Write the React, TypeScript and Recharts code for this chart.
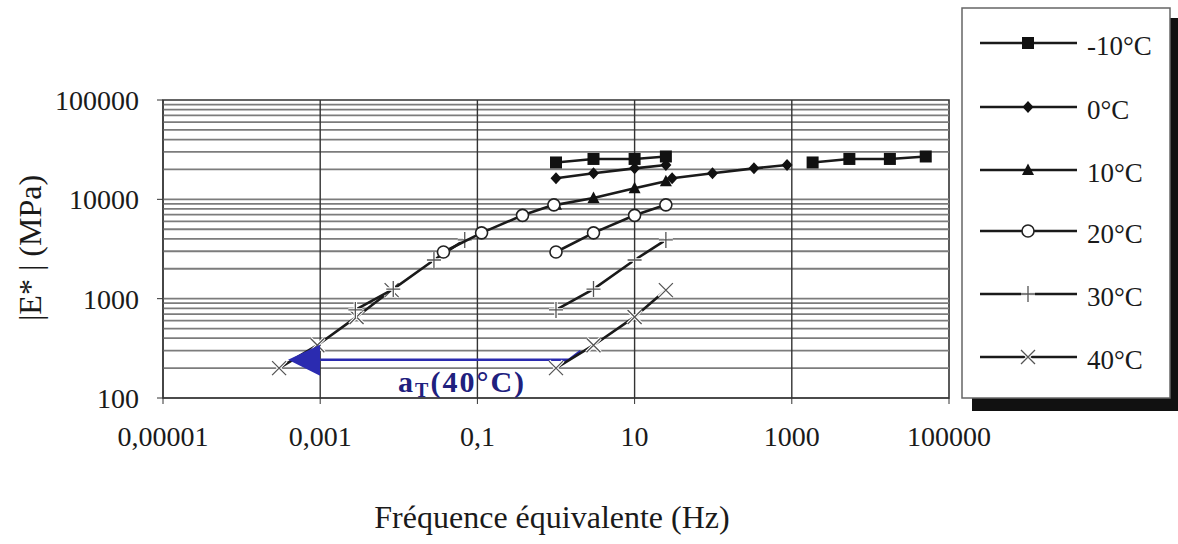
import React from "react";
import {
  ScatterChart,
  Scatter,
  XAxis,
  YAxis,
  ReferenceArea,
  ReferenceLine,
  ReferenceDot,
} from "recharts";

// fréquences d'essai (Hz)
const freqTest = [1, 3, 10, 25];

// |E*| mesuré (MPa) par température
const modM10 = [23500, 25500, 25500, 27000];
const mod0 = [16300, 18300, 20500, 22200];
const mod10 = [8800, 10300, 12900, 15200];
const mod20 = [2950, 4600, 6900, 8800];
const mod30 = [770, 1250, 2450, 3900];
const mod40 = [200, 340, 655, 1220];

// fréquences équivalentes après translation (réf. 10°C)
const freqEqM10 = [1840, 5400, 17700, 50600];
const freqEq0 = [30, 98, 330, 870];
const freqEq20 = [0.037, 0.113, 0.375, 0.94];
const freqEq30 = [0.0028, 0.0085, 0.028, 0.069];
const freqEq40 = [0.0003, 0.00092, 0.0029, 0.0081];

const temperatures = ["-10°C", "0°C", "10°C", "20°C", "30°C", "40°C"];

const xTicks = [0.00001, 0.001, 0.1, 10, 1000, 100000];
const xTickLabels = ["0,00001", "0,001", "0,1", "10", "1000", "100000"];
const yTicks = [100, 1000, 10000, 100000];
const yTickLabels = ["100", "1000", "10000", "100000"];
const xGrid = [0.001, 0.1, 10, 1000];

const yGrid: number[] = [];
for (const d of [100, 1000, 10000]) {
  for (let k = 2; k < 10; k++) yGrid.push(k * d);
}
yGrid.push(1000, 10000);

type Kind = "square" | "diamond" | "triangle" | "circle" | "plus" | "cross";
const kinds: Kind[] = ["square", "diamond", "triangle", "circle", "plus", "cross"];

const FONT = "Liberation Serif, DejaVu Serif, serif";
const INK = "#1a1a1a";

function Marker({ kind, cx, cy }: { kind: Kind; cx: number; cy: number }) {
  switch (kind) {
    case "square":
      return <rect x={cx - 6} y={cy - 6} width={12} height={12} fill="#111" />;
    case "diamond":
      return (
        <polygon
          points={`${cx},${cy - 6} ${cx + 5.5},${cy} ${cx},${cy + 6} ${cx - 5.5},${cy}`}
          fill="#111"
        />
      );
    case "triangle":
      return (
        <polygon
          points={`${cx},${cy - 6.5} ${cx + 6},${cy + 5} ${cx - 6},${cy + 5}`}
          fill="#111"
        />
      );
    case "circle":
      return <circle cx={cx} cy={cy} r={6} fill="#fff" stroke="#222" strokeWidth={1.6} />;
    case "plus":
      return (
        <g>
          <path d={`M${cx - 7},${cy}H${cx + 7}M${cx},${cy - 8}V${cy + 8}`} stroke="#fff" strokeWidth={3.5} />
          <path d={`M${cx - 7},${cy}H${cx + 7}M${cx},${cy - 8}V${cy + 8}`} stroke="#555" strokeWidth={1.3} />
        </g>
      );
    default:
      return (
        <g>
          <path
            d={`M${cx - 7},${cy - 7}L${cx + 7},${cy + 7}M${cx - 7},${cy + 7}L${cx + 7},${cy - 7}`}
            stroke="#fff"
            strokeWidth={3.5}
          />
          <path
            d={`M${cx - 7},${cy - 7}L${cx + 7},${cy + 7}M${cx - 7},${cy + 7}L${cx + 7},${cy - 7}`}
            stroke="#555"
            strokeWidth={1.3}
          />
        </g>
      );
  }
}

const toPoints = (f: number[], e: number[]) => f.map((v, i) => ({ f: v, e: e[i] }));

const series = [
  { key: "m40eq", kind: "cross" as Kind, data: toPoints(freqEq40, mod40) },
  { key: "m40", kind: "cross" as Kind, data: toPoints(freqTest, mod40) },
  { key: "m30eq", kind: "plus" as Kind, data: toPoints(freqEq30, mod30) },
  { key: "m30", kind: "plus" as Kind, data: toPoints(freqTest, mod30) },
  { key: "m10", kind: "triangle" as Kind, data: toPoints(freqTest, mod10) },
  { key: "m20eq", kind: "circle" as Kind, data: toPoints(freqEq20, mod20) },
  { key: "m20", kind: "circle" as Kind, data: toPoints(freqTest, mod20) },
  { key: "m0", kind: "diamond" as Kind, data: toPoints(freqTest, mod0) },
  { key: "m0eq", kind: "diamond" as Kind, data: toPoints(freqEq0, mod0) },
  { key: "mm10", kind: "square" as Kind, data: toPoints(freqTest, modM10) },
  { key: "mm10eq", kind: "square" as Kind, data: toPoints(freqEqM10, modM10) },
];

const legendY = [43, 107, 170, 231, 294, 357];

export default function App() {
  return (
    <div
      style={{
        position: "absolute",
        left: 0,
        top: 0,
        width: 1178,
        height: 544,
        background: "#fff",
        fontFamily: FONT,
      }}
    >
      <ScatterChart width={1178} height={544} margin={{ top: 100, right: 229, bottom: 0, left: 0 }}>
        <XAxis
          type="number"
          dataKey="f"
          scale="log"
          domain={[0.00001, 100000]}
          ticks={xTicks}
          allowDataOverflow
          height={146}
          tickSize={6}
          tickMargin={22}
          stroke="#333"
          tickFormatter={(v: number) => xTickLabels[xTicks.indexOf(v)] ?? String(v)}
          tick={{ fontFamily: FONT, fontSize: 28, fill: "#1a1a1a" }}
        />
        <YAxis
          type="number"
          dataKey="e"
          scale="log"
          domain={[100, 100000]}
          ticks={yTicks}
          allowDataOverflow
          width={163}
          tickSize={6}
          tickMargin={18}
          stroke="#333"
          tickFormatter={(v: number) => yTickLabels[yTicks.indexOf(v)] ?? String(v)}
          tick={{ fontFamily: FONT, fontSize: 28, fill: "#1a1a1a" }}
        />
        {yGrid.map((v, i) => (
          <ReferenceLine key={"h" + i} y={v} stroke="#7c7c7c" strokeWidth={1.8} />
        ))}
        {xGrid.map((v) => (
          <ReferenceLine key={"v" + v} x={v} stroke="#333" strokeWidth={1.4} />
        ))}
        <ReferenceArea x1={0.00001} x2={100000} y1={100} y2={100000} fill="none" stroke="#333" strokeWidth={1.6} />
        {series.map((s) => (
          <Scatter
            key={s.key}
            data={s.data}
            line={{ stroke: INK, strokeWidth: 2.6 }}
            lineType="joint"
            isAnimationActive={false}
            shape={(p: any) => <Marker kind={s.kind} cx={p.cx} cy={p.cy} />}
          />
        ))}
        <ReferenceLine
          segment={[{ x: 0.001, y: 242 }, { x: 1.45, y: 242 }]}
          stroke="#2b2bb0"
          strokeWidth={2.5}
        />
        <ReferenceLine
          segment={[{ x: 1.45, y: 242 }, { x: 2.05, y: 298 }]}
          stroke="#2b2bb0"
          strokeWidth={2.5}
        />
        <ReferenceDot
          x={0.00039}
          y={242}
          r={0}
          shape={(p: any) => (
            <polygon
              points={`${p.cx},${p.cy} ${p.cx + 32},${p.cy - 15} ${p.cx + 32},${p.cy + 16}`}
              fill="#2b2bb0"
            />
          )}
        />
        <ReferenceDot
          x={0.0098}
          y={115}
          r={0}
          shape={(p: any) => (
            <text x={p.cx} y={p.cy} fontFamily={FONT} fontSize={30} fontWeight="bold" fill="#20207e" letterSpacing={2}>
              a
              <tspan fontSize={20} dy={5}>T</tspan>
              <tspan dy={-5}>(40°C)</tspan>
            </text>
          )}
        />
      </ScatterChart>

      <svg
        width={1178}
        height={544}
        style={{ position: "absolute", left: 0, top: 0, pointerEvents: "none" }}
      >
        <text
          transform="translate(30,248) rotate(-90)"
          textAnchor="middle"
          dominantBaseline="central"
          fontFamily={FONT}
          fontSize={32}
          fill="#1a1a1a"
        >
          |E* | (MPa)
        </text>
        <text x={552} y={528} textAnchor="middle" fontFamily={FONT} fontSize={32} fill="#1a1a1a">
          Fréquence équivalente (Hz)
        </text>

        <rect x={972} y={18} width={210} height={393} fill="#111" />
        <rect x={962} y={8} width={208} height={390} fill="#fff" stroke="#666" strokeWidth={1.5} />
        {temperatures.map((t, i) => (
          <g key={t}>
            <line x1={980} x2={1077} y1={legendY[i]} y2={legendY[i]} stroke={INK} strokeWidth={2.6} />
            <Marker kind={kinds[i]} cx={1028} cy={legendY[i]} />
            <text
              x={1087}
              y={legendY[i] + 3}
              dominantBaseline="central"
              fontFamily={FONT}
              fontSize={27}
              fill="#1a1a1a"
            >
              {t}
            </text>
          </g>
        ))}
      </svg>
    </div>
  );
}
